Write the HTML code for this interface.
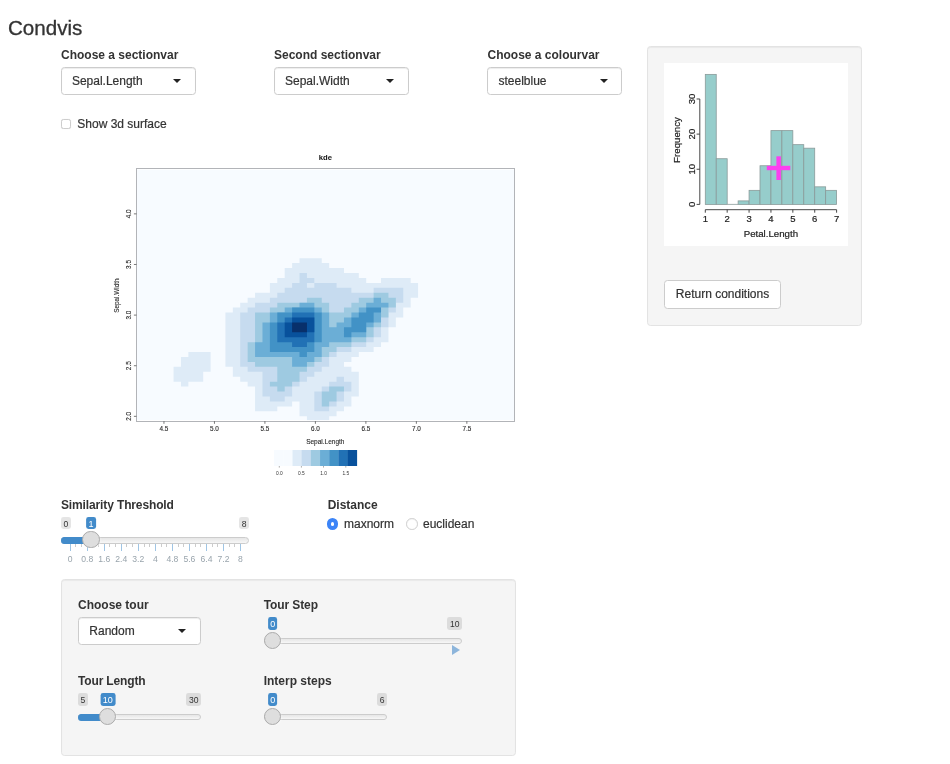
<!DOCTYPE html>
<html><head><meta charset="utf-8"><title>Condvis</title>
<style>
html,body{margin:0;padding:0;background:#fff;}
body{width:950px;height:764px;position:relative;overflow:hidden;will-change:transform;font-family:"Liberation Sans",sans-serif;color:#333;}
.abs{position:absolute;white-space:nowrap;}
.lbl{position:absolute;white-space:nowrap;font-weight:bold;font-size:12px;line-height:14px;color:#333;}
.txt{position:absolute;white-space:nowrap;font-size:12px;line-height:14px;color:#333;-webkit-text-stroke:0.2px #333;}
.sel{position:absolute;box-sizing:border-box;height:28px;border:1px solid #ccc;border-radius:3.5px;background:#fff;box-shadow:inset 0 1px 1px rgba(0,0,0,.075);}
.sel span{position:absolute;left:9.5px;top:5.5px;font-size:12px;line-height:14px;color:#333;white-space:nowrap;-webkit-text-stroke:0.2px #333;}
.sel i{position:absolute;top:10.9px;width:0;height:0;border-left:4.15px solid transparent;border-right:4.15px solid transparent;border-top:4.2px solid #222;}
.well{position:absolute;box-sizing:border-box;background:#f5f5f5;border:1px solid #e3e3e3;border-radius:3.5px;box-shadow:inset 0 1px 1px rgba(0,0,0,.05);}
.irs-line{position:absolute;box-sizing:border-box;height:6.6px;border:1px solid #ccc;border-radius:6.4px;background:linear-gradient(to bottom,#dedede -50%,#fff 150%);}
.irs-bar{position:absolute;box-sizing:border-box;height:6.6px;background:#428bca;border-top:1px solid #428bca;border-bottom:1px solid #428bca;border-radius:6.4px 0 0 6.4px;}
.irs-h{position:absolute;box-sizing:border-box;width:17.4px;height:17.4px;border:1px solid #ababab;background:#dedede;border-radius:50%;box-shadow:1px 1px 2px rgba(255,255,255,.3);}
.irs-mm{position:absolute;box-sizing:border-box;height:11.8px;padding:0 2.5px;border-radius:2.4px;background:rgba(0,0,0,.1);color:#333;font-size:8.6px;line-height:11.8px;white-space:nowrap;text-align:center;}
.irs-s{position:absolute;box-sizing:border-box;height:11.8px;padding:0 2.4px;border-radius:2.4px;background:#428bca;color:#fff;font-size:9px;line-height:11.8px;white-space:nowrap;text-align:center;}
.gt{position:absolute;font-size:8.6px;line-height:10px;color:#99a4ac;white-space:nowrap;transform:translateX(-50%);}
.gp{position:absolute;width:1px;background:rgba(66,139,202,.5);}
.gs{position:absolute;width:1px;background:rgba(153,153,153,.5);}
</style></head>
<body>
<div class="abs" id="title" style="left:8px;top:16px;font-size:20.6px;line-height:24px;color:#333;-webkit-text-stroke:0.3px #333;">Condvis</div>
<div class="lbl" id="l0" style="left:61px;top:47.5px">Choose a sectionvar</div>
<div class="sel" id="s0" style="left:61.3px;top:67px;width:134.4px"><span style="left:9.6px">Sepal.Length</span><i style="left:110.9px"></i></div>
<div class="lbl" id="l1" style="left:274px;top:47.5px">Second sectionvar</div>
<div class="sel" id="s1" style="left:274.3px;top:67px;width:134.4px"><span style="left:9.7px">Sepal.Width</span><i style="left:110.9px"></i></div>
<div class="lbl" id="l2" style="left:487.5px;top:47.5px">Choose a colourvar</div>
<div class="sel" id="s2" style="left:487.2px;top:67px;width:134.4px"><span style="left:10.3px">steelblue</span><i style="left:111.4px"></i></div>
<div class="abs" id="cb" style="left:61.3px;top:119.2px;width:9.8px;height:9.8px;box-sizing:border-box;border:1.2px solid #cdcdcd;border-radius:2.6px;background:#fff;box-shadow:0 0 0.8px rgba(0,0,0,.15)"></div>
<div class="txt" id="cbt" style="left:77.3px;top:116.7px">Show 3d surface</div>
<div class="well" style="left:647px;top:46px;width:215px;height:280px"></div>
<div class="abs" style="left:664px;top:63px;width:184px;height:183px;background:#fff"></div>
<svg id="hist" width="950" height="764" viewBox="0 0 950 764" style="position:absolute;left:0;top:0;font-family:'Liberation Sans',sans-serif">
<rect x="705.30" y="74.38" width="10.94" height="130.02" fill="#96cdcb" stroke="#8a9a99" stroke-width="0.8"/>
<rect x="716.24" y="158.72" width="10.94" height="45.68" fill="#96cdcb" stroke="#8a9a99" stroke-width="0.8"/>
<line x1="727.18" y1="204.4" x2="738.12" y2="204.4" stroke="#8a9a99" stroke-width="0.8"/>
<rect x="738.12" y="200.89" width="10.94" height="3.51" fill="#96cdcb" stroke="#8a9a99" stroke-width="0.8"/>
<rect x="749.07" y="190.34" width="10.94" height="14.06" fill="#96cdcb" stroke="#8a9a99" stroke-width="0.8"/>
<rect x="760.01" y="165.75" width="10.94" height="38.65" fill="#96cdcb" stroke="#8a9a99" stroke-width="0.8"/>
<rect x="770.95" y="130.61" width="10.94" height="73.79" fill="#96cdcb" stroke="#8a9a99" stroke-width="0.8"/>
<rect x="781.89" y="130.61" width="10.94" height="73.79" fill="#96cdcb" stroke="#8a9a99" stroke-width="0.8"/>
<rect x="792.83" y="144.66" width="10.94" height="59.74" fill="#96cdcb" stroke="#8a9a99" stroke-width="0.8"/>
<rect x="803.77" y="148.18" width="10.94" height="56.22" fill="#96cdcb" stroke="#8a9a99" stroke-width="0.8"/>
<rect x="814.72" y="186.83" width="10.94" height="17.57" fill="#96cdcb" stroke="#8a9a99" stroke-width="0.8"/>
<rect x="825.66" y="190.34" width="10.94" height="14.06" fill="#96cdcb" stroke="#8a9a99" stroke-width="0.8"/>
<line x1="699.8" y1="98.98" x2="699.8" y2="204.4" stroke="#333" stroke-width="0.9"/>
<line x1="696.5999999999999" y1="204.40" x2="699.8" y2="204.40" stroke="#333" stroke-width="0.9"/>
<text transform="translate(694.90 204.40) rotate(-90)" font-size="9.5" text-anchor="middle" fill="#222" stroke="#222" stroke-width="0.2">0</text>
<line x1="696.5999999999999" y1="169.26" x2="699.8" y2="169.26" stroke="#333" stroke-width="0.9"/>
<text transform="translate(694.90 169.26) rotate(-90)" font-size="9.5" text-anchor="middle" fill="#222" stroke="#222" stroke-width="0.2">10</text>
<line x1="696.5999999999999" y1="134.12" x2="699.8" y2="134.12" stroke="#333" stroke-width="0.9"/>
<text transform="translate(694.90 134.12) rotate(-90)" font-size="9.5" text-anchor="middle" fill="#222" stroke="#222" stroke-width="0.2">20</text>
<line x1="696.5999999999999" y1="98.98" x2="699.8" y2="98.98" stroke="#333" stroke-width="0.9"/>
<text transform="translate(694.90 98.98) rotate(-90)" font-size="9.5" text-anchor="middle" fill="#222" stroke="#222" stroke-width="0.2">30</text>
<text transform="translate(679.5 140) rotate(-90)" font-size="9.7" text-anchor="middle" fill="#222" stroke="#222" stroke-width="0.2">Frequency</text>
<line x1="705.3" y1="209.7" x2="836.6" y2="209.7" stroke="#333" stroke-width="0.9"/>
<line x1="705.30" y1="209.7" x2="705.30" y2="212.7" stroke="#333" stroke-width="0.9"/>
<text x="705.30" y="221.90" font-size="9.5" text-anchor="middle" fill="#222" stroke="#222" stroke-width="0.2">1</text>
<line x1="727.18" y1="209.7" x2="727.18" y2="212.7" stroke="#333" stroke-width="0.9"/>
<text x="727.18" y="221.90" font-size="9.5" text-anchor="middle" fill="#222" stroke="#222" stroke-width="0.2">2</text>
<line x1="749.07" y1="209.7" x2="749.07" y2="212.7" stroke="#333" stroke-width="0.9"/>
<text x="749.07" y="221.90" font-size="9.5" text-anchor="middle" fill="#222" stroke="#222" stroke-width="0.2">3</text>
<line x1="770.95" y1="209.7" x2="770.95" y2="212.7" stroke="#333" stroke-width="0.9"/>
<text x="770.95" y="221.90" font-size="9.5" text-anchor="middle" fill="#222" stroke="#222" stroke-width="0.2">4</text>
<line x1="792.83" y1="209.7" x2="792.83" y2="212.7" stroke="#333" stroke-width="0.9"/>
<text x="792.83" y="221.90" font-size="9.5" text-anchor="middle" fill="#222" stroke="#222" stroke-width="0.2">5</text>
<line x1="814.72" y1="209.7" x2="814.72" y2="212.7" stroke="#333" stroke-width="0.9"/>
<text x="814.72" y="221.90" font-size="9.5" text-anchor="middle" fill="#222" stroke="#222" stroke-width="0.2">6</text>
<line x1="836.60" y1="209.7" x2="836.60" y2="212.7" stroke="#333" stroke-width="0.9"/>
<text x="836.60" y="221.90" font-size="9.5" text-anchor="middle" fill="#222" stroke="#222" stroke-width="0.2">7</text>
<text x="770.9" y="236.8" font-size="9.7" text-anchor="middle" fill="#222" stroke="#222" stroke-width="0.2">Petal.Length</text>
<rect x="766.8" y="165.8" width="23.5" height="4.4" fill="#fc3ff0"/>
<rect x="776.4" y="156.3" width="4.5" height="23.7" fill="#fc3ff0"/>
</svg>
<div class="abs" id="btn" style="left:664px;top:280px;width:117px;height:28.6px;box-sizing:border-box;border:1px solid #ccc;border-radius:3.5px;background:#fff;font-size:12px;line-height:25px;padding-top:1px;text-align:center;color:#333;-webkit-text-stroke:0.2px #333">Return conditions</div>
<svg id="kde" width="950" height="764" viewBox="0 0 950 764" style="position:absolute;left:0;top:0;font-family:'Liberation Sans',sans-serif">
<rect x="137.2" y="169.7" width="376.9" height="250.4" fill="#f7fbff"/>
<path fill="#deebf7" d="M306.93 416.26h22.23v4.94h-22.23zM299.52 411.32h37.05v4.94h-37.05zM255.06 406.38h22.23v4.94h-22.23zM299.52 406.38h44.46v4.94h-44.46zM255.06 401.44h37.05v4.94h-37.05zM299.52 401.44h51.87v4.94h-51.87zM255.06 396.50h96.33v4.94h-96.33zM255.06 391.56h103.74v4.94h-103.74zM255.06 386.62h103.74v4.94h-103.74zM180.96 381.68h7.41v4.94h-7.41zM247.65 381.68h111.15v4.94h-111.15zM173.55 376.74h29.64v4.94h-29.64zM240.24 376.74h118.56v4.94h-118.56zM173.55 371.80h29.64v4.94h-29.64zM232.83 371.80h125.97v4.94h-125.97zM173.55 366.86h37.05v4.94h-37.05zM232.83 366.86h118.56v4.94h-118.56zM180.96 361.92h29.64v4.94h-29.64zM225.42 361.92h118.56v4.94h-118.56zM180.96 356.98h29.64v4.94h-29.64zM225.42 356.98h125.97v4.94h-125.97zM188.37 352.04h22.23v4.94h-22.23zM225.42 352.04h133.38v4.94h-133.38zM225.42 347.10h148.20v4.94h-148.20zM225.42 342.16h155.61v4.94h-155.61zM225.42 337.22h163.02v4.94h-163.02zM225.42 332.28h163.02v4.94h-163.02zM225.42 327.34h163.02v4.94h-163.02zM225.42 322.40h170.43v4.94h-170.43zM225.42 317.46h170.43v4.94h-170.43zM225.42 312.52h177.84v4.94h-177.84zM232.83 307.58h170.43v4.94h-170.43zM240.24 302.64h170.43v4.94h-170.43zM247.65 297.70h163.02v4.94h-163.02zM255.06 292.76h163.02v4.94h-163.02zM269.88 287.82h148.20v4.94h-148.20zM269.88 282.88h148.20v4.94h-148.20zM277.29 277.94h88.92v4.94h-88.92zM381.03 277.94h29.64v4.94h-29.64zM284.70 273.00h74.10v4.94h-74.10zM284.70 268.06h59.28v4.94h-59.28zM292.11 263.12h37.05v4.94h-37.05zM299.52 258.18h22.23v4.94h-22.23z"/>
<path fill="#c6dbef" d="M314.34 406.38h14.82v4.94h-14.82zM314.34 401.44h22.23v4.94h-22.23zM269.88 396.50h14.82v4.94h-14.82zM314.34 396.50h29.64v4.94h-29.64zM262.47 391.56h29.64v4.94h-29.64zM314.34 391.56h29.64v4.94h-29.64zM262.47 386.62h29.64v4.94h-29.64zM321.75 386.62h29.64v4.94h-29.64zM262.47 381.68h37.05v4.94h-37.05zM329.16 381.68h22.23v4.94h-22.23zM262.47 376.74h44.46v4.94h-44.46zM336.57 376.74h7.41v4.94h-7.41zM262.47 371.80h51.87v4.94h-51.87zM247.65 366.86h74.10v4.94h-74.10zM240.24 361.92h88.92v4.94h-88.92zM240.24 356.98h88.92v4.94h-88.92zM240.24 352.04h96.33v4.94h-96.33zM240.24 347.10h111.15v4.94h-111.15zM240.24 342.16h125.97v4.94h-125.97zM240.24 337.22h133.38v4.94h-133.38zM240.24 332.28h140.79v4.94h-140.79zM240.24 327.34h140.79v4.94h-140.79zM240.24 322.40h148.20v4.94h-148.20zM240.24 317.46h148.20v4.94h-148.20zM240.24 312.52h148.20v4.94h-148.20zM247.65 307.58h148.20v4.94h-148.20zM255.06 302.64h140.79v4.94h-140.79zM269.88 297.70h133.38v4.94h-133.38zM277.29 292.76h125.97v4.94h-125.97zM284.70 287.82h66.69v4.94h-66.69zM373.62 287.82h29.64v4.94h-29.64zM292.11 282.88h14.82v4.94h-14.82zM314.34 282.88h22.23v4.94h-22.23zM299.52 277.94h14.82v4.94h-14.82zM299.52 273.00h7.41v4.94h-7.41z"/>
<path fill="#9ecae1" d="M321.75 401.44h7.41v4.94h-7.41zM321.75 396.50h14.82v4.94h-14.82zM321.75 391.56h14.82v4.94h-14.82zM277.29 386.62h7.41v4.94h-7.41zM329.16 386.62h14.82v4.94h-14.82zM269.88 381.68h22.23v4.94h-22.23zM277.29 376.74h22.23v4.94h-22.23zM277.29 371.80h22.23v4.94h-22.23zM277.29 366.86h29.64v4.94h-29.64zM255.06 361.92h59.28v4.94h-59.28zM247.65 356.98h74.10v4.94h-74.10zM247.65 352.04h81.51v4.94h-81.51zM247.65 347.10h88.92v4.94h-88.92zM247.65 342.16h103.74v4.94h-103.74zM255.06 337.22h111.15v4.94h-111.15zM255.06 332.28h118.56v4.94h-118.56zM255.06 327.34h118.56v4.94h-118.56zM255.06 322.40h125.97v4.94h-125.97zM255.06 317.46h125.97v4.94h-125.97zM255.06 312.52h133.38v4.94h-133.38zM269.88 307.58h59.28v4.94h-59.28zM343.98 307.58h44.46v4.94h-44.46zM277.29 302.64h51.87v4.94h-51.87zM351.39 302.64h44.46v4.94h-44.46zM306.93 297.70h14.82v4.94h-14.82zM358.80 297.70h37.05v4.94h-37.05zM373.62 292.76h14.82v4.94h-14.82z"/>
<path fill="#6baed6" d="M292.11 361.92h14.82v4.94h-14.82zM292.11 356.98h22.23v4.94h-22.23zM255.06 352.04h66.69v4.94h-66.69zM255.06 347.10h66.69v4.94h-66.69zM255.06 342.16h74.10v4.94h-74.10zM262.47 337.22h88.92v4.94h-88.92zM262.47 332.28h103.74v4.94h-103.74zM262.47 327.34h103.74v4.94h-103.74zM262.47 322.40h66.69v4.94h-66.69zM336.57 322.40h37.05v4.94h-37.05zM269.88 317.46h59.28v4.94h-59.28zM343.98 317.46h37.05v4.94h-37.05zM269.88 312.52h59.28v4.94h-59.28zM351.39 312.52h29.64v4.94h-29.64zM284.70 307.58h37.05v4.94h-37.05zM358.80 307.58h22.23v4.94h-22.23zM299.52 302.64h14.82v4.94h-14.82zM366.21 302.64h22.23v4.94h-22.23zM373.62 297.70h7.41v4.94h-7.41z"/>
<path fill="#4292c6" d="M299.52 352.04h7.41v4.94h-7.41zM269.88 347.10h44.46v4.94h-44.46zM269.88 342.16h44.46v4.94h-44.46zM269.88 337.22h51.87v4.94h-51.87zM269.88 332.28h51.87v4.94h-51.87zM343.98 332.28h7.41v4.94h-7.41zM269.88 327.34h51.87v4.94h-51.87zM343.98 327.34h22.23v4.94h-22.23zM269.88 322.40h51.87v4.94h-51.87zM351.39 322.40h14.82v4.94h-14.82zM277.29 317.46h44.46v4.94h-44.46zM351.39 317.46h22.23v4.94h-22.23zM277.29 312.52h44.46v4.94h-44.46zM358.80 312.52h14.82v4.94h-14.82zM292.11 307.58h22.23v4.94h-22.23zM366.21 307.58h14.82v4.94h-14.82z"/>
<path fill="#2171b5" d="M292.11 342.16h14.82v4.94h-14.82zM277.29 337.22h37.05v4.94h-37.05zM277.29 332.28h37.05v4.94h-37.05zM277.29 327.34h37.05v4.94h-37.05zM277.29 322.40h37.05v4.94h-37.05zM284.70 317.46h29.64v4.94h-29.64zM292.11 312.52h22.23v4.94h-22.23z"/>
<path fill="#08519c" d="M284.70 332.28h22.23v4.94h-22.23zM284.70 327.34h29.64v4.94h-29.64zM284.70 322.40h29.64v4.94h-29.64zM292.11 317.46h22.23v4.94h-22.23z"/>
<path fill="#08306b" d="M292.11 327.34h14.82v4.94h-14.82zM292.11 322.40h14.82v4.94h-14.82z"/>
<rect x="137" y="420.1" width="377" height="1" fill="#fff"/>
<rect x="136.5" y="168.5" width="378" height="253" fill="none" stroke="#b2b4b8" stroke-width="1"/>
<line x1="163.96" y1="421.2" x2="163.96" y2="423.80" stroke="#555" stroke-width="0.8"/>
<text x="163.96" y="430.90" font-size="6.4" text-anchor="middle" fill="#2b2b2b" stroke="#2b2b2b" stroke-width="0.12">4.5</text>
<line x1="214.44" y1="421.2" x2="214.44" y2="423.80" stroke="#555" stroke-width="0.8"/>
<text x="214.44" y="430.90" font-size="6.4" text-anchor="middle" fill="#2b2b2b" stroke="#2b2b2b" stroke-width="0.12">5.0</text>
<line x1="264.92" y1="421.2" x2="264.92" y2="423.80" stroke="#555" stroke-width="0.8"/>
<text x="264.92" y="430.90" font-size="6.4" text-anchor="middle" fill="#2b2b2b" stroke="#2b2b2b" stroke-width="0.12">5.5</text>
<line x1="315.40" y1="421.2" x2="315.40" y2="423.80" stroke="#555" stroke-width="0.8"/>
<text x="315.40" y="430.90" font-size="6.4" text-anchor="middle" fill="#2b2b2b" stroke="#2b2b2b" stroke-width="0.12">6.0</text>
<line x1="365.88" y1="421.2" x2="365.88" y2="423.80" stroke="#555" stroke-width="0.8"/>
<text x="365.88" y="430.90" font-size="6.4" text-anchor="middle" fill="#2b2b2b" stroke="#2b2b2b" stroke-width="0.12">6.5</text>
<line x1="416.37" y1="421.2" x2="416.37" y2="423.80" stroke="#555" stroke-width="0.8"/>
<text x="416.37" y="430.90" font-size="6.4" text-anchor="middle" fill="#2b2b2b" stroke="#2b2b2b" stroke-width="0.12">7.0</text>
<line x1="466.85" y1="421.2" x2="466.85" y2="423.80" stroke="#555" stroke-width="0.8"/>
<text x="466.85" y="430.90" font-size="6.4" text-anchor="middle" fill="#2b2b2b" stroke="#2b2b2b" stroke-width="0.12">7.5</text>
<line x1="133.90" y1="416.34" x2="136.5" y2="416.34" stroke="#555" stroke-width="0.8"/>
<text transform="translate(130.90 416.34) rotate(-90)" font-size="6.4" text-anchor="middle" fill="#2b2b2b" stroke="#2b2b2b" stroke-width="0.12">2.0</text>
<line x1="133.90" y1="365.72" x2="136.5" y2="365.72" stroke="#555" stroke-width="0.8"/>
<text transform="translate(130.90 365.72) rotate(-90)" font-size="6.4" text-anchor="middle" fill="#2b2b2b" stroke="#2b2b2b" stroke-width="0.12">2.5</text>
<line x1="133.90" y1="315.10" x2="136.5" y2="315.10" stroke="#555" stroke-width="0.8"/>
<text transform="translate(130.90 315.10) rotate(-90)" font-size="6.4" text-anchor="middle" fill="#2b2b2b" stroke="#2b2b2b" stroke-width="0.12">3.0</text>
<line x1="133.90" y1="264.48" x2="136.5" y2="264.48" stroke="#555" stroke-width="0.8"/>
<text transform="translate(130.90 264.48) rotate(-90)" font-size="6.4" text-anchor="middle" fill="#2b2b2b" stroke="#2b2b2b" stroke-width="0.12">3.5</text>
<line x1="133.90" y1="213.86" x2="136.5" y2="213.86" stroke="#555" stroke-width="0.8"/>
<text transform="translate(130.90 213.86) rotate(-90)" font-size="6.4" text-anchor="middle" fill="#2b2b2b" stroke="#2b2b2b" stroke-width="0.12">4.0</text>
<text x="325.4" y="160.3" font-size="7.7" font-weight="bold" text-anchor="middle" fill="#111">kde</text>
<text x="325.3" y="444.3" font-size="6.5" text-anchor="middle" fill="#2b2b2b" stroke="#2b2b2b" stroke-width="0.12">Sepal.Length</text>
<text transform="translate(118.8 295.6) rotate(-90)" font-size="6.4" text-anchor="middle" fill="#2b2b2b" stroke="#2b2b2b" stroke-width="0.12">Sepal.Width</text>
<rect x="274.10" y="450.0" width="9.49" height="16.0" fill="#f7fbff"/>
<rect x="283.29" y="450.0" width="9.49" height="16.0" fill="#f7fbff"/>
<rect x="292.48" y="450.0" width="9.49" height="16.0" fill="#deebf7"/>
<rect x="301.67" y="450.0" width="9.49" height="16.0" fill="#c6dbef"/>
<rect x="310.86" y="450.0" width="9.49" height="16.0" fill="#9ecae1"/>
<rect x="320.04" y="450.0" width="9.49" height="16.0" fill="#6baed6"/>
<rect x="329.23" y="450.0" width="9.49" height="16.0" fill="#4292c6"/>
<rect x="338.42" y="450.0" width="9.49" height="16.0" fill="#2171b5"/>
<rect x="347.61" y="450.0" width="9.49" height="16.0" fill="#08519c"/>
<line x1="279.3" y1="466.0" x2="279.3" y2="467.6" stroke="#777" stroke-width="0.6"/>
<text x="279.3" y="475.0" font-size="4.8" text-anchor="middle" fill="#333">0.0</text>
<line x1="301.4" y1="466.0" x2="301.4" y2="467.6" stroke="#777" stroke-width="0.6"/>
<text x="301.4" y="475.0" font-size="4.8" text-anchor="middle" fill="#333">0.5</text>
<line x1="323.5" y1="466.0" x2="323.5" y2="467.6" stroke="#777" stroke-width="0.6"/>
<text x="323.5" y="475.0" font-size="4.8" text-anchor="middle" fill="#333">1.0</text>
<line x1="345.8" y1="466.0" x2="345.8" y2="467.6" stroke="#777" stroke-width="0.6"/>
<text x="345.8" y="475.0" font-size="4.8" text-anchor="middle" fill="#333">1.5</text>
</svg>
<div class="lbl" id="lsim" style="left:61px;top:497.6px;letter-spacing:-0.13px">Similarity Threshold</div>
<div class="gp" style="left:69.70px;top:543.8px;height:7.2px"></div>
<div class="gt" style="left:70.20px;top:553.6px">0</div>
<div class="gs" style="left:75.38px;top:543.8px;height:3.2px"></div>
<div class="gs" style="left:81.05px;top:543.8px;height:3.2px"></div>
<div class="gp" style="left:86.73px;top:543.8px;height:7.2px"></div>
<div class="gt" style="left:87.23px;top:553.6px">0.8</div>
<div class="gs" style="left:92.41px;top:543.8px;height:3.2px"></div>
<div class="gs" style="left:98.08px;top:543.8px;height:3.2px"></div>
<div class="gp" style="left:103.76px;top:543.8px;height:7.2px"></div>
<div class="gt" style="left:104.26px;top:553.6px">1.6</div>
<div class="gs" style="left:109.44px;top:543.8px;height:3.2px"></div>
<div class="gs" style="left:115.11px;top:543.8px;height:3.2px"></div>
<div class="gp" style="left:120.79px;top:543.8px;height:7.2px"></div>
<div class="gt" style="left:121.29px;top:553.6px">2.4</div>
<div class="gs" style="left:126.47px;top:543.8px;height:3.2px"></div>
<div class="gs" style="left:132.14px;top:543.8px;height:3.2px"></div>
<div class="gp" style="left:137.82px;top:543.8px;height:7.2px"></div>
<div class="gt" style="left:138.32px;top:553.6px">3.2</div>
<div class="gs" style="left:143.50px;top:543.8px;height:3.2px"></div>
<div class="gs" style="left:149.17px;top:543.8px;height:3.2px"></div>
<div class="gp" style="left:154.85px;top:543.8px;height:7.2px"></div>
<div class="gt" style="left:155.35px;top:553.6px">4</div>
<div class="gs" style="left:160.53px;top:543.8px;height:3.2px"></div>
<div class="gs" style="left:166.20px;top:543.8px;height:3.2px"></div>
<div class="gp" style="left:171.88px;top:543.8px;height:7.2px"></div>
<div class="gt" style="left:172.38px;top:553.6px">4.8</div>
<div class="gs" style="left:177.56px;top:543.8px;height:3.2px"></div>
<div class="gs" style="left:183.23px;top:543.8px;height:3.2px"></div>
<div class="gp" style="left:188.91px;top:543.8px;height:7.2px"></div>
<div class="gt" style="left:189.41px;top:553.6px">5.6</div>
<div class="gs" style="left:194.59px;top:543.8px;height:3.2px"></div>
<div class="gs" style="left:200.26px;top:543.8px;height:3.2px"></div>
<div class="gp" style="left:205.94px;top:543.8px;height:7.2px"></div>
<div class="gt" style="left:206.44px;top:553.6px">6.4</div>
<div class="gs" style="left:211.62px;top:543.8px;height:3.2px"></div>
<div class="gs" style="left:217.29px;top:543.8px;height:3.2px"></div>
<div class="gp" style="left:222.97px;top:543.8px;height:7.2px"></div>
<div class="gt" style="left:223.47px;top:553.6px">7.2</div>
<div class="gs" style="left:228.65px;top:543.8px;height:3.2px"></div>
<div class="gs" style="left:234.32px;top:543.8px;height:3.2px"></div>
<div class="gp" style="left:240.00px;top:543.8px;height:7.2px"></div>
<div class="gt" style="left:240.50px;top:553.6px">8</div>
<div class="irs-line" style="left:61px;top:537.1px;width:188px;height:6.6px"></div>
<div class="irs-bar" style="left:61px;top:536.9px;width:30.0px;height:7.0px"></div>
<div class="irs-h" style="left:82.3px;top:531.0px"></div>
<div class="irs-mm" style="left:61px;top:517.2px;height:11.8px;line-height:11.8px;padding-top:1.4px">0</div>
<div class="irs-mm" style="right:701px;top:517.2px;height:11.8px;line-height:11.8px;padding-top:1.4px">8</div>
<div class="irs-s" style="left:91.0px;top:517.2px;transform:translateX(-50%);height:11.8px;line-height:11.8px;padding-top:1.4px">1</div>
<div class="lbl" id="ldist" style="left:327.7px;top:497.6px">Distance</div>
<div class="abs" style="left:326.5px;top:518px;width:11.6px;height:11.6px;box-sizing:border-box;border-radius:50%;background:#3c84f7;border:4.1px solid #3c84f7"><div style="width:100%;height:100%;border-radius:50%;background:#fff"></div></div>
<div class="txt" id="r1" style="left:344px;top:517px">maxnorm</div>
<div class="abs" style="left:406.3px;top:518px;width:11.6px;height:11.6px;box-sizing:border-box;border-radius:50%;background:#fff;border:1.3px solid #cfcfcf;box-shadow:inset 0 0.5px 1px rgba(0,0,0,.08)"></div>
<div class="txt" id="r2" style="left:423px;top:517px">euclidean</div>
<div class="well" style="left:61.2px;top:579.3px;width:455px;height:176.4px"></div>
<div class="lbl" id="ltour" style="left:78px;top:597.5px">Choose tour</div>
<div class="sel" id="s3" style="left:78.3px;top:617px;width:122.4px"><span style="left:10px">Random</span><i style="left:98.7px"></i></div>
<div class="lbl" id="lstep" style="left:263.7px;top:597.5px;letter-spacing:-0.1px">Tour Step</div>
<div class="irs-line" style="left:264px;top:637.9px;width:198px;height:6.5px"></div>
<div class="irs-h" style="left:264.0px;top:631.6px"></div>
<div class="irs-mm" style="right:488px;top:617.0px;height:12.8px;line-height:12.8px;padding-top:1.4px">10</div>
<div class="irs-s" style="left:272.7px;top:617.0px;transform:translateX(-50%);height:12.8px;line-height:12.8px;padding-top:1.4px">0</div>
<div class="abs" style="left:452px;top:645.4px;width:0;height:0;border-top:5.2px solid transparent;border-bottom:5.2px solid transparent;border-left:8.6px solid #8db5db"></div>
<div class="lbl" id="llen" style="left:78px;top:673.6px;letter-spacing:-0.15px">Tour Length</div>
<div class="irs-line" style="left:78px;top:713.9px;width:123px;height:6.5px"></div>
<div class="irs-bar" style="left:78px;top:713.7px;width:29.8px;height:6.9px"></div>
<div class="irs-h" style="left:99.1px;top:707.6px"></div>
<div class="irs-mm" style="left:78px;top:693.0px;height:12.8px;line-height:12.8px;padding-top:1.4px">5</div>
<div class="irs-mm" style="right:749px;top:693.0px;height:12.8px;line-height:12.8px;padding-top:1.4px">30</div>
<div class="irs-s" style="left:107.8px;top:693.0px;transform:translateX(-50%);height:12.8px;line-height:12.8px;padding-top:1.4px">10</div>
<div class="lbl" id="lint" style="left:263.7px;top:673.6px">Interp steps</div>
<div class="irs-line" style="left:264px;top:713.9px;width:123px;height:6.5px"></div>
<div class="irs-h" style="left:264.0px;top:707.6px"></div>
<div class="irs-mm" style="right:563px;top:693.0px;height:12.8px;line-height:12.8px;padding-top:1.4px">6</div>
<div class="irs-s" style="left:272.7px;top:693.0px;transform:translateX(-50%);height:12.8px;line-height:12.8px;padding-top:1.4px">0</div>
</body></html>
